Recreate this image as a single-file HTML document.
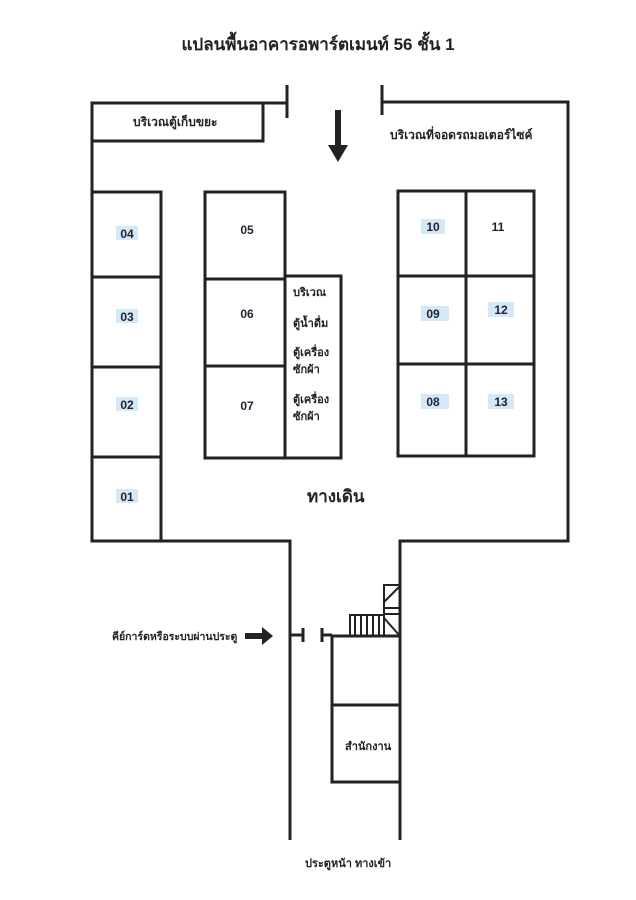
<!DOCTYPE html>
<html><head><meta charset="utf-8"><style>
body{margin:0;background:#fff;}
svg{display:block;font-family:"Liberation Sans","Noto Sans CJK SC",sans-serif;}
.w{stroke:#222;stroke-width:3;fill:none;}
.t{font-size:12px;font-weight:bold;fill:#222;}
.n{font-size:12px;font-weight:bold;fill:#223;}
.hl{fill:#d4e8f8;}
</style></head><body>
<svg width="636" height="900" viewBox="0 0 636 900">
<text x="318" y="50" text-anchor="middle" style="font-size:17px;font-weight:bold" fill="#222">แปลนพื้นอาคารอพาร์ตเมนท์ 56  ชั้น 1</text>
<g class="w">
<polyline points="287,103 92,103 92,541 290,541 290,840"/>
<line x1="287" y1="85" x2="287" y2="118"/>
<rect x="92" y="103" width="171" height="38"/>
<polyline points="382,102 568,102 568,541 400,541 400,840"/>
<line x1="382" y1="85" x2="382" y2="115"/>
<rect x="92" y="192" width="69" height="349"/>
<line x1="92" y1="277" x2="161" y2="277"/><line x1="92" y1="367" x2="161" y2="367"/><line x1="92" y1="457" x2="161" y2="457"/>
<rect x="205" y="192" width="80" height="266"/>
<line x1="205" y1="279" x2="285" y2="279"/><line x1="205" y1="366" x2="285" y2="366"/>
<polyline points="285,276 341,276 341,458 285,458"/>
<rect x="398" y="191" width="136" height="265"/>
<line x1="466" y1="191" x2="466" y2="456"/><line x1="398" y1="276" x2="534" y2="276"/><line x1="398" y1="364" x2="534" y2="364"/>
<line x1="290" y1="635" x2="303" y2="635"/><line x1="303" y1="628" x2="303" y2="642"/>
<line x1="322" y1="628" x2="322" y2="642"/><line x1="322" y1="635" x2="332" y2="635"/>
<rect x="332" y="636" width="68" height="146"/>
<line x1="332" y1="705" x2="400" y2="705"/>
</g>
<g stroke="#222" stroke-width="2" fill="none">
<rect x="350" y="615" width="34" height="21"/>
<line x1="355" y1="615" x2="355" y2="636"/><line x1="361" y1="615" x2="361" y2="636"/><line x1="367" y1="615" x2="367" y2="636"/><line x1="373" y1="615" x2="373" y2="636"/><line x1="379" y1="615" x2="379" y2="636"/>
<rect x="384" y="585" width="16" height="51"/>
<line x1="384" y1="602" x2="400" y2="586"/><line x1="384" y1="608" x2="400" y2="608"/><line x1="384" y1="614" x2="400" y2="614"/><line x1="384" y1="618" x2="400" y2="636"/>
</g>
<polygon points="335,110 341,110 341,145 348,145 338,162 328,145 335,145" fill="#222"/>
<polygon points="245,633 262,633 262,627 273,636 262,645 262,639 245,639" fill="#222"/>
<text class="t" x="133" y="126">บริเวณตู้เก็บขยะ</text>
<text class="t" x="390" y="139">บริเวณที่จอดรถมอเตอร์ไซค์</text>
<g>
<rect class="hl" x="116" y="226" width="22" height="14"/><text class="n" x="127" y="238" text-anchor="middle">04</text>
<rect class="hl" x="116" y="309" width="22" height="14"/><text class="n" x="127" y="321" text-anchor="middle">03</text>
<rect class="hl" x="116" y="397" width="22" height="14"/><text class="n" x="127" y="409" text-anchor="middle">02</text>
<rect class="hl" x="116" y="489" width="22" height="14"/><text class="n" x="127" y="501" text-anchor="middle">01</text>
<text class="n" x="247" y="234" text-anchor="middle">05</text>
<text class="n" x="247" y="318" text-anchor="middle">06</text>
<text class="n" x="247" y="410" text-anchor="middle">07</text>
<rect class="hl" x="421" y="219" width="24" height="15"/><text class="n" x="433" y="231" text-anchor="middle">10</text>
<text class="n" x="498" y="231" text-anchor="middle">11</text>
<rect class="hl" x="421" y="306" width="28" height="15"/><text class="n" x="433" y="318" text-anchor="middle">09</text>
<rect class="hl" x="488" y="302" width="26" height="15"/><text class="n" x="501" y="314" text-anchor="middle">12</text>
<rect class="hl" x="421" y="394" width="28" height="15"/><text class="n" x="433" y="406" text-anchor="middle">08</text>
<rect class="hl" x="488" y="394" width="26" height="15"/><text class="n" x="501" y="406" text-anchor="middle">13</text>
</g>
<text class="t" style="font-size:11px" x="293" y="296">บริเวณ</text>
<text class="t" style="font-size:11px" x="293" y="327">ตู้น้ำดื่ม</text>
<text class="t" style="font-size:11px" x="293" y="356">ตู้เครื่อง</text>
<text class="t" style="font-size:11px" x="293" y="373">ซักผ้า</text>
<text class="t" style="font-size:11px" x="293" y="403">ตู้เครื่อง</text>
<text class="t" style="font-size:11px" x="293" y="420">ซักผ้า</text>
<text x="307" y="502" style="font-size:17px;font-weight:bold" fill="#222">ทางเดิน</text>
<text class="t" style="font-size:10.5px" x="112" y="640">คีย์การ์ดหรือระบบผ่านประตู</text>
<text class="t" style="font-size:11px" x="345" y="750">สำนักงาน</text>
<text class="t" style="font-size:11px" x="305" y="867">ประตูหน้า ทางเข้า</text>
</svg>
</body></html>
